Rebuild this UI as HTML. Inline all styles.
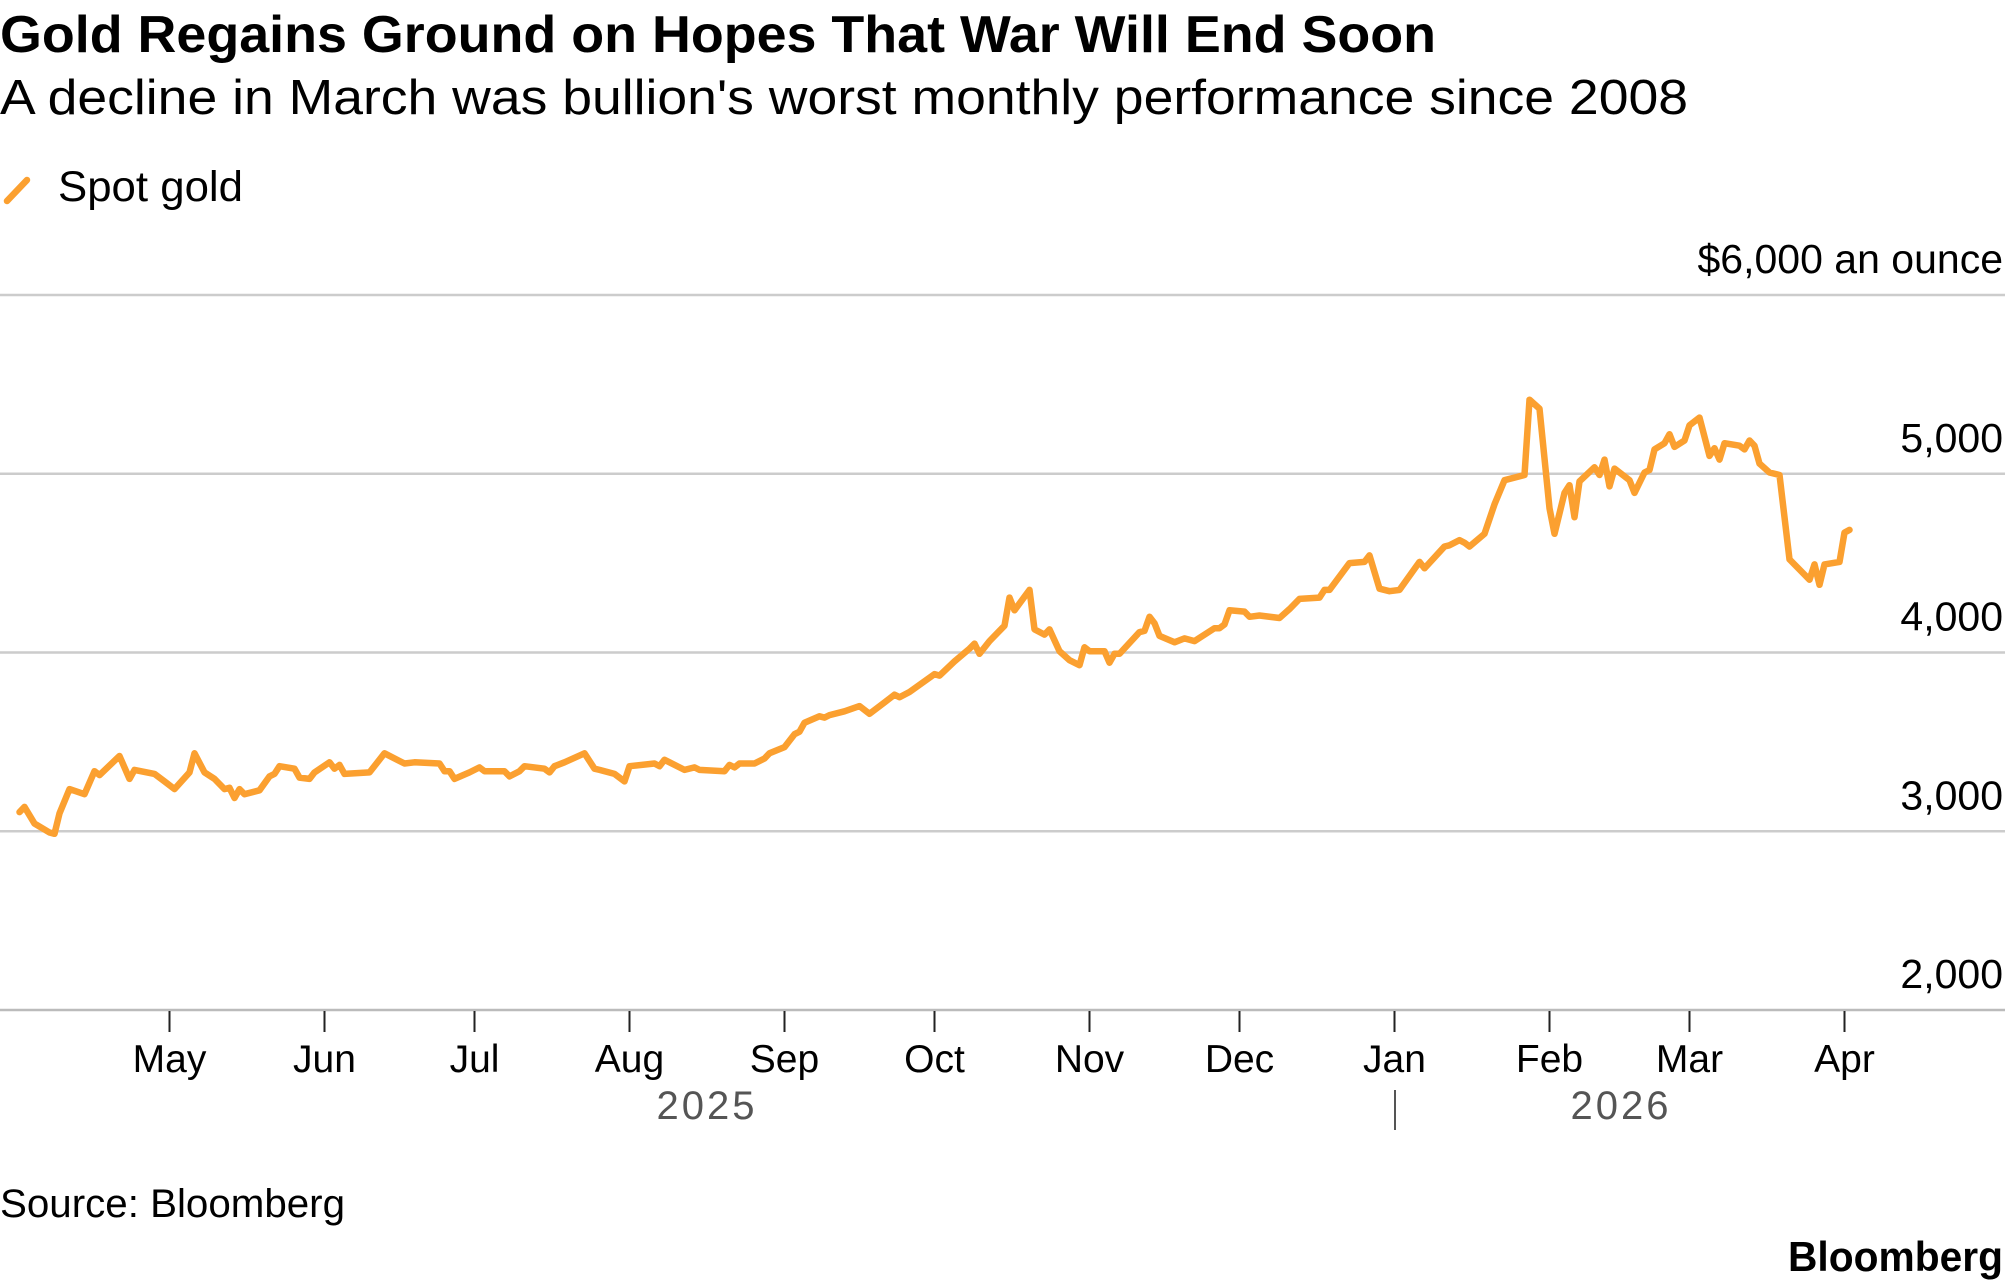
<!DOCTYPE html>
<html><head><meta charset="utf-8"><style>
html,body{margin:0;padding:0;background:#fff;}
svg{display:block;font-family:"Liberation Sans",sans-serif;}
</style></head><body>
<svg id="chart" width="2005" height="1287" viewBox="0 0 2005 1287" xmlns="http://www.w3.org/2000/svg">
<text x="0" y="52" font-size="52" font-weight="bold" fill="#000" textLength="1436" lengthAdjust="spacingAndGlyphs">Gold Regains Ground on Hopes That War Will End Soon</text>
<text x="0" y="114" font-size="49" fill="#000" textLength="1688" lengthAdjust="spacingAndGlyphs">A decline in March was bullion's worst monthly performance since 2008</text>
<line x1="7" y1="201" x2="27" y2="180" stroke="#fba030" stroke-width="6.5" stroke-linecap="round"/>
<text x="58" y="201" font-size="43" fill="#000" textLength="185" lengthAdjust="spacingAndGlyphs">Spot gold</text>
<g id="grid"></g>
<g id="xaxis"></g>
<path id="series" fill="none" stroke="#fba030" stroke-width="6.5" stroke-linejoin="round" stroke-linecap="round"/>
<text x="707" y="1119" font-size="40" fill="#555" text-anchor="middle" letter-spacing="3">2025</text>
<line x1="1395" y1="1090" x2="1395" y2="1130" stroke="#555" stroke-width="2"/>
<text x="1621" y="1119" font-size="40" fill="#555" text-anchor="middle" letter-spacing="3">2026</text>
<text x="0" y="1217" font-size="40" fill="#000" textLength="345" lengthAdjust="spacingAndGlyphs">Source: Bloomberg</text>
<text x="2003" y="1271" font-size="42" font-weight="bold" fill="#000" text-anchor="end" textLength="215" lengthAdjust="spacingAndGlyphs">Bloomberg</text>
</svg>
<script>
const days = [0,1,3,6,7,8,10,13,15,16,20,22,23,27,29,31,34,35,37,39,41,42,43,44,45,48,50,51,52,55,56,58,59,62,63,64,65,70,73,76,77,79,84,85,86,87,90,92,93,97,98,100,101,105,106,107,109,113,115,116,119,121,122,127,128,129,130,133,135,136,141,142,143,144,147,149,150,153,155,156,157,160,161,162,165,168,170,173,175,176,178,183,184,187,190,191,192,194,197,198,199,202,203,205,206,208,210,212,213,214,217,218,219,220,224,225,226,227,228,231,233,235,239,240,241,242,245,246,248,252,254,256,260,261,262,266,269,270,272,274,276,280,281,285,286,288,289,290,293,295,297,301,302,304,306,307,309,310,311,312,315,316,317,318,319,322,323,325,326,327,329,330,331,333,334,336,338,339,340,341,344,345,346,347,348,350,352,354,357,358,359,360,361,364,365,366];
const prices = [3107,3136,3043,2993,2986,3100,3236,3207,3336,3314,3421,3293,3343,3321,3279,3236,3329,3436,3329,3293,3236,3243,3186,3236,3207,3229,3307,3321,3364,3350,3300,3293,3329,3386,3350,3371,3321,3329,3436,3393,3379,3386,3379,3336,3336,3293,3329,3357,3336,3336,3307,3336,3364,3350,3329,3364,3386,3436,3350,3343,3321,3279,3364,3379,3364,3400,3386,3343,3357,3343,3336,3371,3357,3379,3379,3407,3436,3471,3543,3557,3607,3643,3636,3650,3671,3700,3657,3721,3764,3750,3779,3879,3871,3950,4021,4050,3993,4064,4150,4307,4236,4350,4129,4100,4129,4007,3957,3929,4029,4007,4007,3943,3993,3993,4114,4121,4200,4164,4093,4057,4079,4064,4136,4136,4157,4236,4229,4200,4207,4193,4243,4300,4307,4350,4350,4500,4507,4543,4357,4343,4350,4507,4471,4593,4600,4629,4614,4593,4664,4829,4964,4993,5414,5364,4807,4664,4893,4936,4757,4957,5036,4993,5079,4929,5029,4964,4893,5007,5021,5136,5171,5221,5150,5186,5271,5314,5100,5143,5079,5171,5157,5136,5186,5157,5057,5007,4993,4521,4436,4407,4493,4379,4493,4507,4671,4686];
const yTicks = [2000,3000,4000,5000,6000];
const yTickLabels = ["2,000","3,000","4,000","5,000","$6,000 an ounce"];
const monthDays = [30,61,91,122,153,183,214,244,275,306,334,365];
const monthLabels = ["May","Jun","Jul","Aug","Sep","Oct","Nov","Dec","Jan","Feb","Mar","Apr"];

const NS = "http://www.w3.org/2000/svg";
function xScale(d){ return 19.5 + d * 5.0; }
function yScale(v){ return 1010 - (v - 2000) * 0.17875; }

const grid = document.getElementById('grid');
yTicks.forEach((t, i) => {
  const y = yScale(t);
  const ln = document.createElementNS(NS, 'line');
  ln.setAttribute('x1', 0); ln.setAttribute('x2', 2005);
  ln.setAttribute('y1', y); ln.setAttribute('y2', y);
  ln.setAttribute('stroke', i === 0 ? '#bbb' : '#ccc');
  ln.setAttribute('stroke-width', 2.5);
  
  
  grid.appendChild(ln);
  const tx = document.createElementNS(NS, 'text');
  tx.setAttribute('x', 2003); tx.setAttribute('y', y - 22);
  tx.setAttribute('text-anchor', 'end');
  tx.setAttribute('font-size', '41');
  tx.setAttribute('fill', '#000');
  tx.textContent = yTickLabels[i];
  
  
  grid.appendChild(tx);
});

const xaxis = document.getElementById('xaxis');
monthDays.forEach((d, i) => {
  const x = xScale(d);
  const tk = document.createElementNS(NS, 'line');
  tk.setAttribute('x1', x); tk.setAttribute('x2', x);
  tk.setAttribute('y1', 1011); tk.setAttribute('y2', 1032);
  tk.setAttribute('stroke', '#222'); tk.setAttribute('stroke-width', 2);
  
  
  xaxis.appendChild(tk);
  const tx = document.createElementNS(NS, 'text');
  tx.setAttribute('x', x); tx.setAttribute('y', 1072);
  tx.setAttribute('text-anchor', 'middle');
  tx.setAttribute('font-size', '39');
  tx.setAttribute('fill', '#000');
  tx.textContent = monthLabels[i];
  
  
  xaxis.appendChild(tx);
});

let dstr = '';
days.forEach((d, i) => {
  dstr += (i ? 'L' : 'M') + xScale(d).toFixed(1) + ',' + yScale(prices[i]).toFixed(1);
});
document.getElementById('series').setAttribute('d', dstr);
</script>
</body></html>
